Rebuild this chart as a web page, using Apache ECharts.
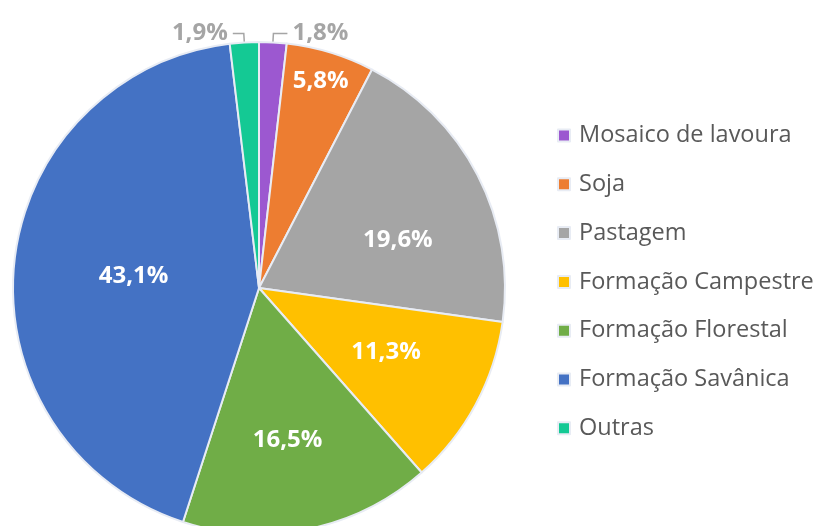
<!DOCTYPE html>
<html><head><meta charset="utf-8">
<script src="https://cdn.jsdelivr.net/npm/echarts@6/dist/echarts.min.js"></script>
<style>html,body{margin:0;padding:0;background:#fff}#c{width:815px;height:526px}</style>
</head><body><div id="c"></div>
<script>
const categories = ['Mosaico de lavoura','Soja','Pastagem','Formação Campestre','Formação Florestal','Formação Savânica','Outras'];
const values = [1.8, 5.8, 19.6, 11.3, 16.5, 43.1, 1.9];
const colors = ['#9c58d0','#ed7d31','#a5a5a5','#ffc000','#70ad47','#4472c4','#14c994'];
const labelOffsets = [null, [25,-86], [27,10], [16,4], [3,29], [0,0], null];
const outsideLen2 = { 0: 14, 6: 11 };

const fmt = v => v.toFixed(1).replace('.', ',') + '%';
const data = categories.map((name, i) => {
  const item = { name, value: values[i], itemStyle: { color: colors[i] } };
  if (i in outsideLen2) {
    item.label = { show: true, position: 'outside', color: '#a5a5a5', verticalAlign: 'bottom', lineHeight: 16, distanceToLabelLine: 5 };
    item.labelLine = { show: true, length: 9, length2: outsideLen2[i], lineStyle: { color: '#a5a5a5', width: 1.5 } };
  } else {
    item.label = { offset: labelOffsets[i] };
    item.labelLine = { show: false };
  }
  return item;
});

const chart = echarts.init(document.getElementById('c'), null, { renderer: 'canvas' });
chart.setOption({
  animation: false,
  backgroundColor: '#fff',
  legend: {
    orient: 'vertical', left: 552, top: 116,
    icon: 'rect', itemWidth: 12, itemHeight: 12, itemGap: 19.8,
    textStyle: { color: '#595959', fontSize: 23.5, fontFamily: 'Open Sans', lineHeight: 29, padding: [0, 0, 0, 4] },
    data: categories
  },
  series: [{
    type: 'pie', center: [259, 288], radius: 246, startAngle: 90, clockwise: true,
    avoidLabelOverlap: false,
    itemStyle: { borderColor: '#e8ecf4', borderWidth: 2 },
    label: {
      show: true, position: 'inside', color: '#fff', fontWeight: 'bold', fontSize: 24,
      fontFamily: 'Open Sans', formatter: p => fmt(p.value)
    },
    data
  }]
});
</script></body></html>
